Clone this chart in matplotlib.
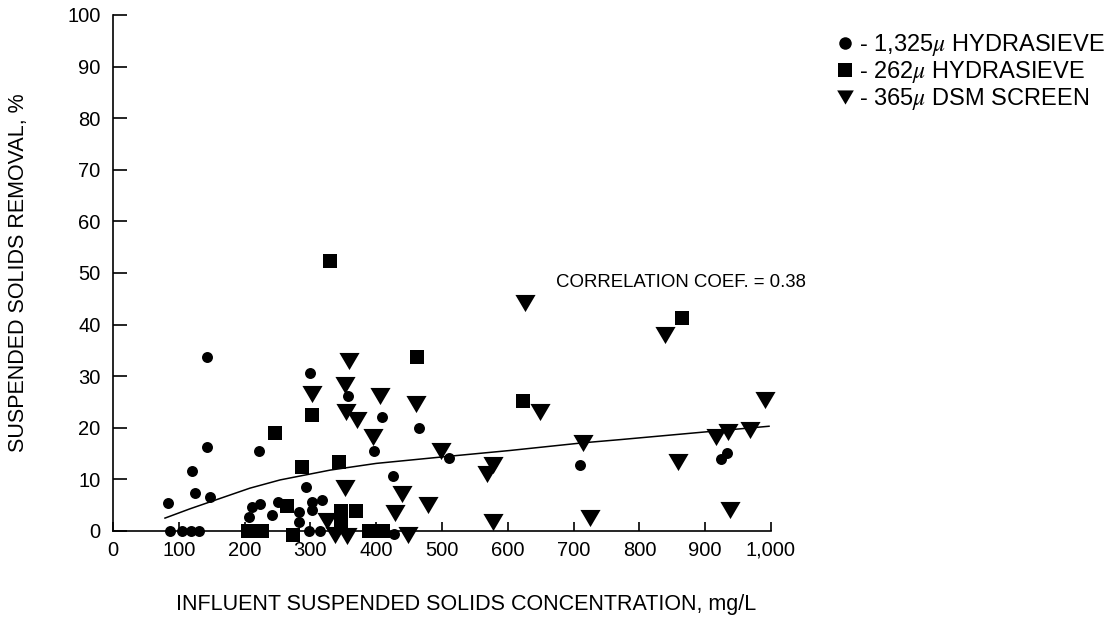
import matplotlib
matplotlib.use("Agg")
import matplotlib.pyplot as plt
from matplotlib.lines import Line2D

# 1,325 micron hydrasieve
circle_x = [87, 105, 118, 130, 84, 120, 125, 143, 143, 147, 206, 211, 224, 222, 241, 251,
            282, 282, 293, 300, 303, 317, 302, 298, 315, 357, 409, 465, 397, 511, 425, 427,
            709, 924, 933]
circle_y = [0, 0, 0, 0, 5.4, 11.7, 7.4, 33.8, 16.3, 6.5, 2.7, 4.6, 5.2, 15.5, 3.1, 5.6,
            3.6, 1.8, 8.6, 30.7, 5.7, 6.0, 4.0, 0, 0, 26.2, 22.0, 20.0, 15.6, 14.1, 10.7, -0.5,
            12.8, 13.9, 15.2]

# 262 micron hydrasieve
square_x = [205, 227, 246, 265, 273, 287, 302, 330, 344, 346, 346, 370, 389, 411, 462, 623, 865]
square_y = [0, 0, 18.9, 4.8, -0.8, 12.5, 22.4, 52.4, 13.4, 3.9, 1.5, 3.9, 0, 0, 33.8, 25.1, 41.2]

# 365 micron DSM screen
tri_x = [325, 337, 356, 303, 353, 358, 354, 371, 406, 395, 353, 439, 429, 449, 460, 479, 499,
         568, 578, 578, 626, 649, 715, 725, 839, 859, 916, 935, 938, 968, 991]
tri_y = [2.0, -0.8, -0.9, 26.5, 28.3, 33.0, 23.1, 21.6, 26.2, 18.3, 8.3, 7.2, 3.4, -0.8, 24.7,
         5.0, 15.5, 11.1, 12.7, 1.7, 44.1, 23.1, 17.1, 2.5, 38.0, 13.4, 18.3, 19.1, 4.1, 19.6, 25.4]

# fitted curve
fit_x = [79, 117, 208, 254, 330, 400, 512, 603, 715, 770, 900, 997]
fit_y = [2.5, 4.3, 8.3, 9.9, 11.8, 13.1, 14.5, 15.6, 17.1, 17.7, 19.2, 20.3]

x_ticks = [0, 100, 200, 300, 400, 500, 600, 700, 800, 900, 1000]
x_ticklabels = ["0", "100", "200", "300", "400", "500", "600", "700", "800", "900", "1,000"]
y_ticks = [0, 10, 20, 30, 40, 50, 60, 70, 80, 90, 100]

labels = ["- 1,325$\\mu$ HYDRASIEVE", "- 262$\\mu$ HYDRASIEVE", "- 365$\\mu$ DSM SCREEN"]

plt.rcParams["font.family"] = ["Liberation Sans", "DejaVu Sans"]
plt.rcParams["mathtext.fontset"] = "stix"

fig = plt.figure(figsize=(11.16, 6.17), dpi=100)
ax = fig.add_axes([113 / 1116, 1 - 531 / 617, 658 / 1116, 516 / 617])

tri_marker = [(-1, 0.85), (1, 0.85), (0, -0.85), (-1, 0.85)]

ax.plot(fit_x, fit_y, color="black", lw=1.1, zorder=2)
ax.plot(circle_x, circle_y, "o", ms=7.9, color="black", mew=0, clip_on=False, zorder=3)
ax.plot(square_x, square_y, "s", ms=10, color="black", mew=0, clip_on=False, zorder=3)
ax.plot(tri_x, tri_y, marker=tri_marker, ls="none", ms=14.5, color="black", mew=0,
        clip_on=False, zorder=3)

ax.set_xlim(0, 1000)
ax.set_ylim(0, 100)
ax.set_xticks(x_ticks)
ax.set_xticklabels(x_ticklabels)
ax.set_yticks(y_ticks)
for s in ["top", "right"]:
    ax.spines[s].set_visible(False)
for s in ["left", "bottom"]:
    ax.spines[s].set_linewidth(1.2)
ax.tick_params(axis="x", direction="in", length=6.5, width=1.2, labelsize=14.5, pad=7)
ax.tick_params(axis="y", direction="in", length=10, width=1.2, labelsize=14.5, pad=9)

ax.set_xlabel("INFLUENT SUSPENDED SOLIDS CONCENTRATION, mg/L", fontsize=15.5)
ax.xaxis.set_label_coords(0.536, -0.122)
ax.set_ylabel("SUSPENDED SOLIDS REMOVAL, %", fontsize=15.5)
ax.yaxis.set_label_coords(-0.128, 0.5)

ax.text(673, 48.1, "CORRELATION COEF. = 0.38", fontsize=13.4, va="center", ha="left")

handles = [
    Line2D([], [], marker="o", ls="none", color="black", ms=9, mew=0),
    Line2D([], [], marker="s", ls="none", color="black", ms=9.5, mew=0),
    Line2D([], [], marker=tri_marker, ls="none", color="black", ms=12, mew=0),
]
fig.legend(handles, labels, loc="center left", bbox_to_anchor=(833 / 1116, 1 - 72 / 617),
           frameon=False, fontsize=17, handlelength=1.0, handletextpad=0.1,
           labelspacing=0.05, borderpad=0, borderaxespad=0)

fig.savefig("out.png", dpi=100)
